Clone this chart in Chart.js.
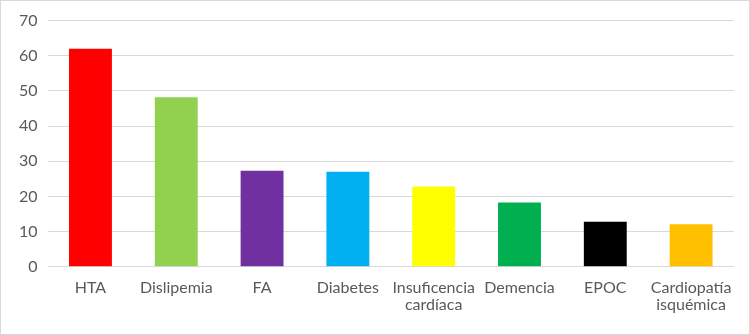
<!DOCTYPE html>
<html>
<head>
<meta charset="utf-8">
<script src="https://cdn.jsdelivr.net/npm/chart.js@4"></script>
<style>
  html, body { margin: 0; padding: 0; background: #fff; }
  #wrap { position: relative; width: 748px; height: 333px; border: 1px solid #d9d9d9; }
</style>
</head>
<body>
<div id="wrap"><canvas id="chart"></canvas></div>
<script>
const categories = ["HTA", "Dislipemia", "FA", "Diabetes", ["Insuficencia", "cardíaca"], "Demencia", "EPOC", ["Cardiopatía", "isquémica"]];
const values = [62, 48.2, 27.3, 27, 22.8, 18.3, 12.8, 12.1];
const barColors = ["#ff0000", "#92d050", "#7030a0", "#00b0f0", "#ffff00", "#00b050", "#000000", "#ffc000"];

const textColor = "#595959";
const gridColor = "#d9d9d9";

new Chart(document.getElementById("chart").getContext("2d"), {
  type: "bar",
  data: {
    labels: categories,
    datasets: [{
      data: values,
      backgroundColor: barColors,
      borderWidth: 0,
      categoryPercentage: 1,
      barPercentage: 0.5
    }]
  },
  options: {
    responsive: true,
    maintainAspectRatio: false,
    animation: false,
    events: [],
    layout: { padding: { top: 12, right: 15, bottom: 16, left: 8 } },
    plugins: { legend: { display: false }, tooltip: { enabled: false } },
    scales: {
      x: {
        grid: { display: false },
        border: { display: false },
        ticks: {
          color: textColor,
          font: { family: "Lato", size: 16, lineHeight: 1.1 },
          maxRotation: 0,
          padding: 4
        }
      },
      y: {
        min: 0,
        max: 70,
        ticks: {
          stepSize: 10,
          color: textColor,
          font: { family: "Lato", size: 16 },
          padding: 10
        },
        grid: { color: gridColor, lineWidth: 1, drawTicks: false },
        border: { display: false }
      }
    }
  }
});
</script>
</body>
</html>
